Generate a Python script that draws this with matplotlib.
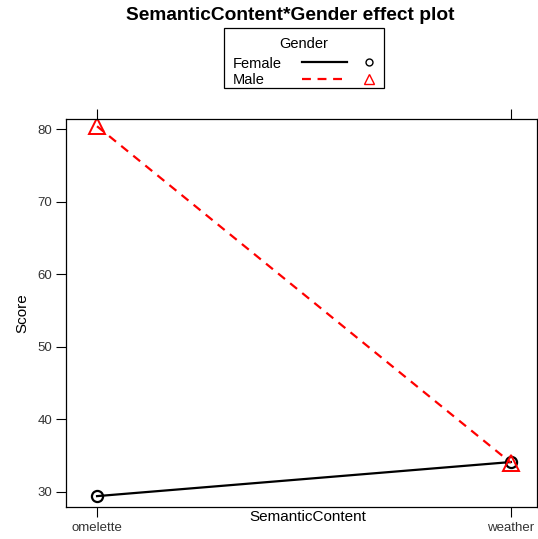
import matplotlib
matplotlib.use("Agg")
import matplotlib.pyplot as plt
from matplotlib.lines import Line2D
from matplotlib.patches import Rectangle

plt.rcParams['font.family'] = ['Liberation Sans', 'DejaVu Sans']

categories = ["omelette", "weather"]
female = [29.4, 34.1]
male = [80.4, 34.0]
yticks = [30, 40, 50, 60, 70, 80]

W, H = 538, 539
fig = plt.figure(figsize=(W / 100, H / 100), dpi=100)

def fx(px):
    return px / W

def fy(py):
    return 1 - py / H

ax = fig.add_axes([fx(66), fy(507), fx(537) - fx(66), fy(119) - fy(507)])
x = list(range(len(categories)))
ax.plot(x, female, color='black', lw=1.6, ls='-', marker='o', ms=8,
        mfc='none', mec='black', mew=1.6)
ax.plot(x, male, color='red', lw=1.6, ls=(0, (4, 3)), marker='^', ms=12,
        mfc='none', mec='red', mew=1.4)
ax.set_xlim(-0.075, 1.063)
ax.set_ylim(27.9, 81.4)
ax.set_xticks(x)
ax.set_xticklabels(categories, fontsize=9.5)
ax.set_yticks(yticks)
ax.set_yticklabels([str(t) for t in yticks], fontsize=9.5)
ax.tick_params(axis='x', which='both', top=True, bottom=True, direction='out',
               length=7, width=0.8, pad=4, labeltop=False)
ax.tick_params(axis='y', left=True, right=False, direction='out', length=7,
               width=0.8, pad=3)
for lab in ax.get_yticklabels():
    lab.set_color('#333333')
for lab in ax.get_xticklabels():
    lab.set_color('#333333')
for s in ax.spines.values():
    s.set_linewidth(0.9)
ax.set_ylabel("Score", fontsize=11, labelpad=6)
fig.text(fx(308), fy(517), "SemanticContent", ha='center', va='center', fontsize=11)

fig.text(fx(290), fy(15), "SemanticContent*Gender effect plot", ha='center',
         va='center', fontsize=13.8, fontweight='bold')

# legend box
fig.add_artist(Rectangle((fx(224), fy(88)), fx(384) - fx(224), fy(28) - fy(88),
                         transform=fig.transFigure, fill=False, lw=0.9,
                         edgecolor='black'))
fig.text(fx(304), fy(44), "Gender", ha='center', va='center', fontsize=10.5)
fig.text(fx(233), fy(64), "Female", ha='left', va='center', fontsize=10.5)
fig.text(fx(233), fy(80), "Male", ha='left', va='center', fontsize=10.5)
fig.add_artist(Line2D([fx(302), fx(347)], [fy(62), fy(62)], transform=fig.transFigure,
                      color='black', lw=1.6))
fig.add_artist(Line2D([fx(302), fx(347)], [fy(79), fy(79)], transform=fig.transFigure,
                      color='red', lw=1.6, ls=(0, (4, 3))))
fig.add_artist(Line2D([fx(369)], [fy(62)], transform=fig.transFigure, marker='o',
                      ms=5, mfc='none', mec='black', mew=1.0, ls='none'))
fig.add_artist(Line2D([fx(369)], [fy(79)], transform=fig.transFigure, marker='^',
                      ms=7, mfc='none', mec='red', mew=1.0, ls='none'))

fig.savefig("out.png", dpi=100)
